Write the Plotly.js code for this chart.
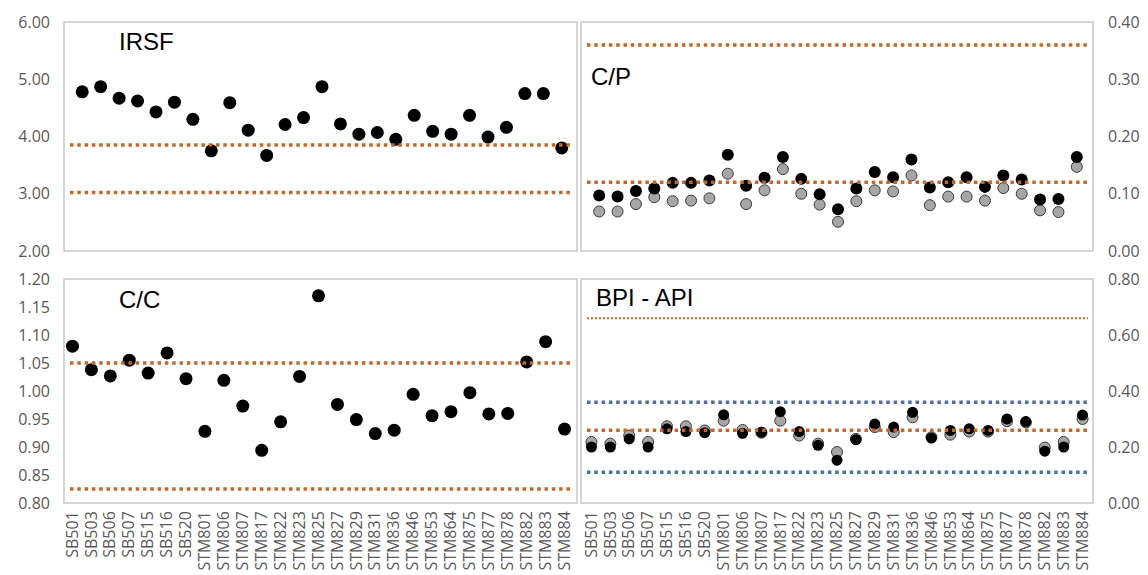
<!DOCTYPE html>
<html>
<head>
<meta charset="utf-8">
<script src="https://cdn.plot.ly/plotly-3.0.1.min.js"></script>
<style>html,body{margin:0;padding:0;background:#fff;}#chart{width:1148px;height:575px;}</style>
</head>
<body>
<div id="chart"></div>
<script>
// ---- data ----
const categories = ["SB501","SB503","SB506","SB507","SB515","SB516","SB520","STM801","STM806","STM807","STM817","STM822","STM823","STM825","STM827","STM829","STM831","STM836","STM846","STM853","STM864","STM875","STM877","STM878","STM882","STM883","STM884"];
const irsf = [4.78,4.87,4.67,4.62,4.43,4.60,4.30,3.75,4.59,4.11,3.67,4.21,4.33,4.87,4.22,4.04,4.07,3.95,4.37,4.09,4.04,4.37,3.99,4.16,4.75,4.75,3.80];
const cpBlack = [0.097,0.095,0.105,0.109,0.119,0.119,0.123,0.168,0.114,0.128,0.164,0.126,0.099,0.073,0.109,0.138,0.129,0.160,0.111,0.120,0.129,0.112,0.132,0.125,0.090,0.091,0.164];
const cpGray = [0.069,0.069,0.082,0.094,0.087,0.088,0.092,0.135,0.082,0.106,0.143,0.100,0.081,0.051,0.087,0.106,0.104,0.132,0.080,0.095,0.095,0.088,0.110,0.100,0.071,0.068,0.147];
const cc = [1.080,1.038,1.027,1.055,1.032,1.068,1.022,0.928,1.019,0.973,0.894,0.945,1.026,1.170,0.976,0.949,0.924,0.930,0.994,0.956,0.963,0.997,0.959,0.960,1.052,1.088,0.932];
const bpiBlack = [0.200,0.200,0.229,0.200,0.265,0.255,0.251,0.315,0.249,0.253,0.326,0.255,0.206,0.153,0.226,0.282,0.271,0.324,0.232,0.259,0.265,0.259,0.300,0.291,0.185,0.200,0.314];
const bpiGray = [0.218,0.212,0.241,0.218,0.274,0.274,0.259,0.294,0.261,0.251,0.294,0.241,0.212,0.182,0.229,0.271,0.253,0.306,0.235,0.244,0.255,0.255,0.292,0.288,0.198,0.218,0.300];
const irsfLimits = [3.85, 3.02];
const cpLimits = [0.36, 0.12];
const ccLimits = [1.05, 0.825];
const bpiOrangeUpper = [0.66];
const bpiOrangeMid = [0.26];
const bpiBlueLimits = [0.36, 0.11];
const panelTitles = ["IRSF", "C/P", "C/C", "BPI - API"];

// ---- layout helpers (pixel -> paper) ----
const W = 1148, H = 575;
const px = v => v / W;
const py = v => 1 - v / H;

const ORANGE = "#C0682A";
const BLUE = "#4A6FA8";
const tickFont = {family: "Open Sans, sans-serif", size: 16, color: "#595959"};

// panel boxes (border) in pixels
const boxes = {
  tl: {x0: 64, x1: 577, y0: 22, y1: 251},
  tr: {x0: 581, x1: 1093, y0: 22, y1: 251},
  bl: {x0: 64, x1: 577, y0: 279, y1: 503},
  br: {x0: 581, x1: 1093, y0: 279, y1: 503}
};

const blackMarker = size => ({color: "#000000", size: size, line: {color: "#000000", width: 0}});
const grayMarker = size => ({color: "#A6A6A6", size: size, line: {color: "#3A3A3A", width: 1}});

const traces = [
  {x: categories, y: irsf, xaxis: "x", yaxis: "y", mode: "markers", type: "scatter", marker: blackMarker(13)},
  {x: categories, y: cpGray, xaxis: "x2", yaxis: "y2", mode: "markers", type: "scatter", marker: grayMarker(11)},
  {x: categories, y: cpBlack, xaxis: "x2", yaxis: "y2", mode: "markers", type: "scatter", marker: blackMarker(12)},
  {x: categories, y: cc, xaxis: "x3", yaxis: "y3", mode: "markers", type: "scatter", marker: blackMarker(13)},
  {x: categories, y: bpiGray, xaxis: "x4", yaxis: "y4", mode: "markers", type: "scatter", marker: grayMarker(11)},
  {x: categories, y: bpiBlack, xaxis: "x4", yaxis: "y4", mode: "markers", type: "scatter", marker: blackMarker(11)}
];

const shapes = [];
for (const k of Object.keys(boxes)) {
  const b = boxes[k];
  shapes.push({type: "rect", xref: "paper", yref: "paper", x0: px(b.x0), x1: px(b.x1), y0: py(b.y1), y1: py(b.y0),
    line: {color: "#C8C8C8", width: 1.5}, fillcolor: "rgba(0,0,0,0)", layer: "below"});
}
function hline(box, yref, val, color, width, dash) {
  const b = boxes[box];
  shapes.push({type: "line", xref: "paper", yref: yref, x0: px(b.x0 + 6), x1: px(b.x1 - 5), y0: val, y1: val,
    line: {color: color, width: width, dash: dash}, layer: "above"});
}
const thick = "3.5px,3.8px";
irsfLimits.forEach(v => hline("tl", "y", v, ORANGE, 3.5, thick));
cpLimits.forEach(v => hline("tr", "y2", v, ORANGE, 3.5, thick));
ccLimits.forEach(v => hline("bl", "y3", v, ORANGE, 3.5, thick));
bpiOrangeUpper.forEach(v => hline("br", "y4", v, ORANGE, 2, "2px,2px"));
bpiBlueLimits.forEach(v => hline("br", "y4", v, BLUE, 3.5, thick));
bpiOrangeMid.forEach(v => hline("br", "y4", v, ORANGE, 3.5, thick));

const titleFont = {family: "Liberation Sans, Arial, sans-serif", size: 24, color: "#000000"};
const annotations = [
  {text: panelTitles[0], xref: "paper", yref: "paper", x: px(117), y: py(42), xanchor: "left", yanchor: "middle", showarrow: false, font: titleFont},
  {text: panelTitles[1], xref: "paper", yref: "paper", x: px(589), y: py(77), xanchor: "left", yanchor: "middle", showarrow: false, font: titleFont},
  {text: panelTitles[2], xref: "paper", yref: "paper", x: px(117), y: py(299), xanchor: "left", yanchor: "middle", showarrow: false, font: titleFont},
  {text: panelTitles[3], xref: "paper", yref: "paper", x: px(594), y: py(297), xanchor: "left", yanchor: "middle", showarrow: false, font: titleFont}
];

const baseX = {type: "category", showgrid: false, zeroline: false, showline: false, ticks: "", range: [-0.5, categories.length - 0.5], fixedrange: true,
  tickmode: "array", tickvals: categories, ticktext: categories};
const baseY = {showgrid: false, zeroline: false, showline: false, ticks: "", tickformat: ".2f", tickfont: tickFont, anchor: "free", fixedrange: true, ticklabelstandoff: 14};

const layout = {
  width: W, height: H,
  margin: {l: 0, r: 0, t: 0, b: 0},
  paper_bgcolor: "#ffffff", plot_bgcolor: "rgba(0,0,0,0)",
  showlegend: false,
  xaxis: Object.assign({}, baseX, {domain: [px(73), px(571)], anchor: "y", showticklabels: false}),
  xaxis2: Object.assign({}, baseX, {domain: [px(590), px(1086)], anchor: "y2", showticklabels: false}),
  xaxis3: Object.assign({}, baseX, {domain: [px(63), px(574)], anchor: "y3", showticklabels: true, tickangle: -90, tickfont: tickFont, ticklabelstandoff: 4}),
  xaxis4: Object.assign({}, baseX, {domain: [px(582), px(1092)], anchor: "y4", showticklabels: true, tickangle: -90, tickfont: tickFont, ticklabelstandoff: 4}),
  yaxis: Object.assign({}, baseY, {domain: [py(251), py(22)], range: [2, 6], dtick: 1, tick0: 2, position: px(64), side: "left"}),
  yaxis2: Object.assign({}, baseY, {domain: [py(251), py(22)], range: [0, 0.4], dtick: 0.1, tick0: 0, position: px(1093), side: "right"}),
  yaxis3: Object.assign({}, baseY, {domain: [py(503), py(279)], range: [0.8, 1.2], dtick: 0.05, tick0: 0.8, position: px(64), side: "left"}),
  yaxis4: Object.assign({}, baseY, {domain: [py(503), py(279)], range: [0, 0.8], dtick: 0.2, tick0: 0, position: px(1093), side: "right"}),
  shapes: shapes,
  annotations: annotations
};

Plotly.newPlot("chart", traces, layout, {staticPlot: true, displayModeBar: false});
</script>
</body>
</html>
